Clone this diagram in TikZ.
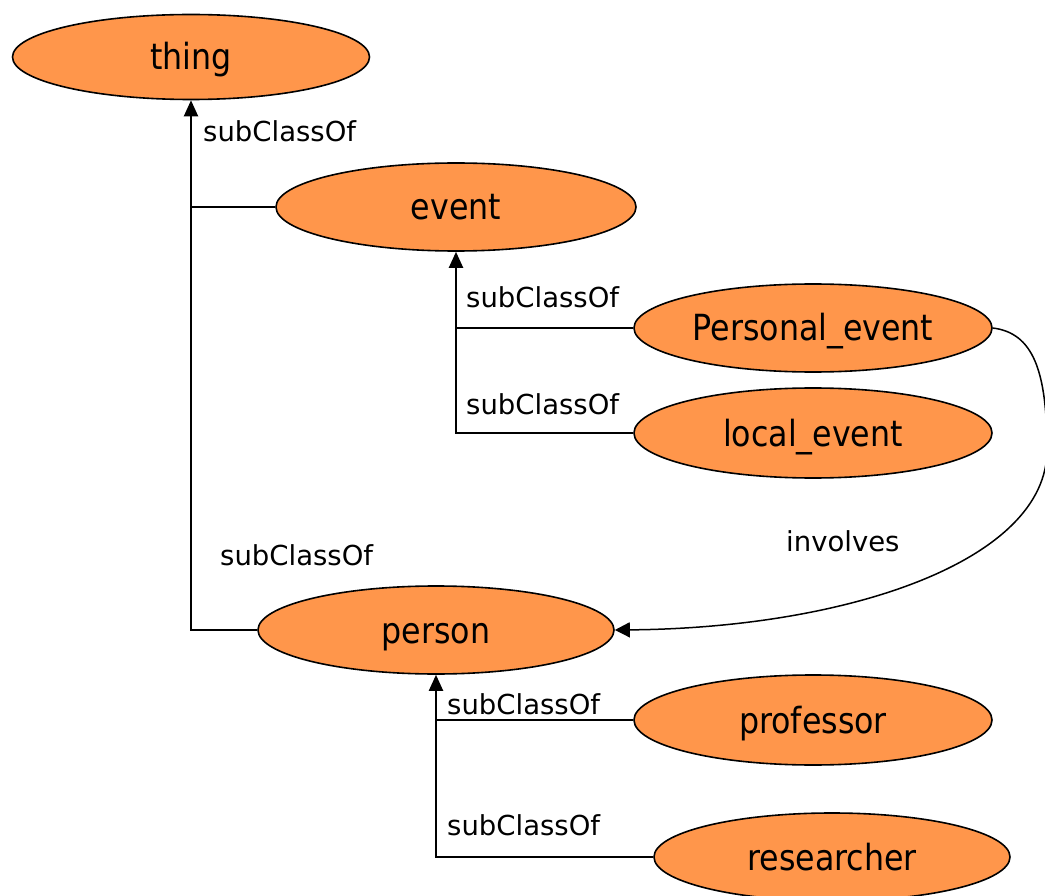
\documentclass[tikz,border=0pt]{standalone}
\usepackage{fontspec}
\setmainfont{DejaVu Sans}
\newfontfamily\nodefont[FakeStretch=0.88]{DejaVu Sans}
\usetikzlibrary{shapes.geometric,arrows.meta}
\definecolor{cls}{RGB}{255,150,75}
\tikzset{
  cnode/.style={ellipse, draw=black, line width=1.6pt, fill=cls, inner sep=0pt,
     minimum width=358pt, minimum height=88pt, text height=27pt, text depth=1pt,
     font=\nodefont\fontsize{36}{40}\selectfont},
  lbl/.style={anchor=west, inner sep=0pt, font=\fontsize{27.5}{32}\selectfont},
  link/.style={line width=2pt},
  arr/.style={line width=2pt, -{Triangle[length=16pt,width=14pt]}},
  rel/.style={line width=1.5pt, -{Triangle[length=15pt,width=15pt]}}
}
\begin{document}
\begin{tikzpicture}[x=1pt,y=-1pt]
\useasboundingbox (0,0) rectangle (1045,896);
\node[cnode, minimum width=357pt, minimum height=85pt] (thing) at (191,57) {thing};
\node[cnode, minimum width=360pt] (event) at (456,207) {event};
\node[cnode] (pe) at (813,328) {Personal\_event};
\node[cnode, minimum height=90pt] (le) at (813,433) {local\_event};
\node[cnode, minimum width=356pt] (person) at (436,630) {person};
\node[cnode, minimum height=90pt] (prof) at (813,720) {professor};
\node[cnode, minimum width=356pt] (res) at (832,857) {researcher};
% subClassOf to thing
\draw[arr] (person.west) -| (thing.south);
\draw[link] (event.west) -- (event.west -| thing.south);
\node[lbl] (l1) at (203,131) {subClassOf};
\node[lbl] (l2) at (220,555) {subClassOf};
% subClassOf to event
\draw[arr] (le.west) -| (event.south);
\draw[link] (pe.west) -- (pe.west -| event.south);
\node[lbl] (l3) at (466,297) {subClassOf};
\node[lbl] (l4) at (466,404) {subClassOf};
% subClassOf to person
\draw[arr] (res.west) -| (person.south);
\draw[link] (prof.west) -- (prof.west -| person.south);
\node[lbl] (l5) at (447,704) {subClassOf};
\node[lbl] (l6) at (447,825) {subClassOf};
% involves
\draw[rel] (pe.east) .. controls +(40,5) and (1047,370) .. (1047,450)
   .. controls (1047,560) and (850,628) .. (person.east);
\node[lbl] (inv) at (786,541) {involves};
\end{tikzpicture}
\end{document}
